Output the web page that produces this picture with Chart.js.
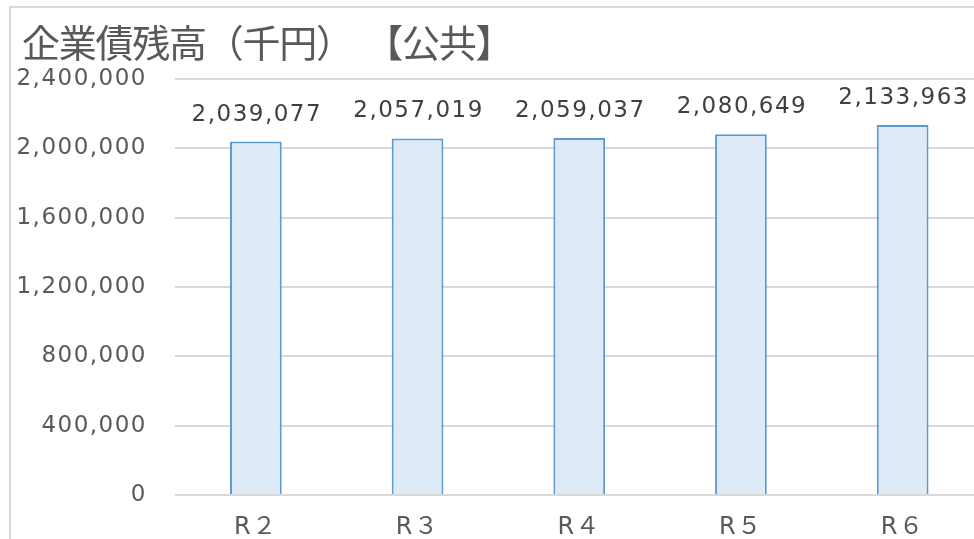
<!DOCTYPE html>
<html>
<head>
<meta charset="utf-8">
<script src="https://cdn.jsdelivr.net/npm/chart.js@4.4.1/dist/chart.umd.min.js"></script>
<style>
  html, body { margin: 0; padding: 0; background: #fff; overflow: hidden; width: 974px; height: 539px; }
  #frame { position: absolute; left: 9px; top: 6px; width: 2000px; height: 2000px;
           border-left: 2px solid #d9d9d9; border-top: 2px solid #d9d9d9; box-sizing: border-box; }
  #c { position: absolute; left: 0; top: 0; }
</style>
</head>
<body>
<div id="frame"></div>
<canvas id="c" width="990" height="539"></canvas>
<script>
const titleText = '企業債残高（千円）【公共】';
const categories = ['R２', 'R３', 'R４', 'R５', 'R６'];
const values = [2039077, 2057019, 2059037, 2080649, 2133963];
const yTicks = [0, 400000, 800000, 1200000, 1600000, 2000000, 2400000];

const numFont = "'DejaVu Sans', 'Noto Sans CJK JP', sans-serif";
const fmt = v => v.toLocaleString('en-US');

const spacingPlugin = {
  id: 'spacing',
  beforeDraw(chart) {
    chart.ctx.letterSpacing = '1.5px';
  }
};

const titlePlugin = {
  id: 'customTitle',
  afterDraw(chart) {
    const ctx = chart.ctx;
    ctx.save();
    ctx.letterSpacing = '0px';
    ctx.font = "38px 'Noto Sans CJK JP', sans-serif";
    ctx.fillStyle = '#595959';
    ctx.textAlign = 'left';
    ctx.textBaseline = 'middle';
    const chars = Array.from(titleText);
    const gapAt = chars.indexOf('【');
    chars.forEach((ch, i) => {
      const x = 22 + i * 36.75 + (i >= gapAt ? 12.5 : 0);
      ctx.fillText(ch, x, 43);
    });
    ctx.restore();
  }
};

const valueLabels = {
  id: 'valueLabels',
  afterDatasetsDraw(chart) {
    const ctx = chart.ctx;
    const meta = chart.getDatasetMeta(0);
    ctx.save();
    ctx.letterSpacing = '1.5px';
    ctx.font = '23px ' + numFont;
    ctx.fillStyle = '#404040';
    ctx.textAlign = 'center';
    ctx.textBaseline = 'middle';
    meta.data.forEach((bar, i) => {
      ctx.fillText(fmt(values[i]), bar.x + 1, bar.y - 27);
    });
    ctx.restore();
  }
};

new Chart(document.getElementById('c'), {
  type: 'bar',
  data: {
    labels: categories,
    datasets: [{
      data: values,
      backgroundColor: '#deebf7',
      borderColor: '#5b9bd5',
      borderWidth: 2,
      barPercentage: 0.32,
      categoryPercentage: 1.0
    }]
  },
  options: {
    responsive: false,
    devicePixelRatio: 1,
    animation: false,
    layout: { padding: { top: 79, right: 6.5, left: 0, bottom: 0 } },
    plugins: { legend: { display: false }, title: { display: false }, tooltip: { enabled: false } },
    scales: {
      x: {
        grid: { display: false, drawTicks: false },
        border: { display: false },
        ticks: { color: '#595959', font: { family: numFont, size: 24 }, padding: 18, maxRotation: 0 },
        afterFit(s) { s.height = 44; }
      },
      y: {
        min: 0, max: 2400000,
        afterBuildTicks(s) { s.ticks = yTicks.map(v => ({ value: v })); },
        grid: { color: '#d9d9d9', lineWidth: 2, drawTicks: false },
        border: { display: false },
        ticks: { color: '#595959', font: { family: numFont, size: 23 }, padding: 28, callback: v => fmt(v) },
        afterFit(s) { s.width = 175; }
      }
    }
  },
  plugins: [spacingPlugin, valueLabels, titlePlugin]
});
</script>
</body>
</html>
